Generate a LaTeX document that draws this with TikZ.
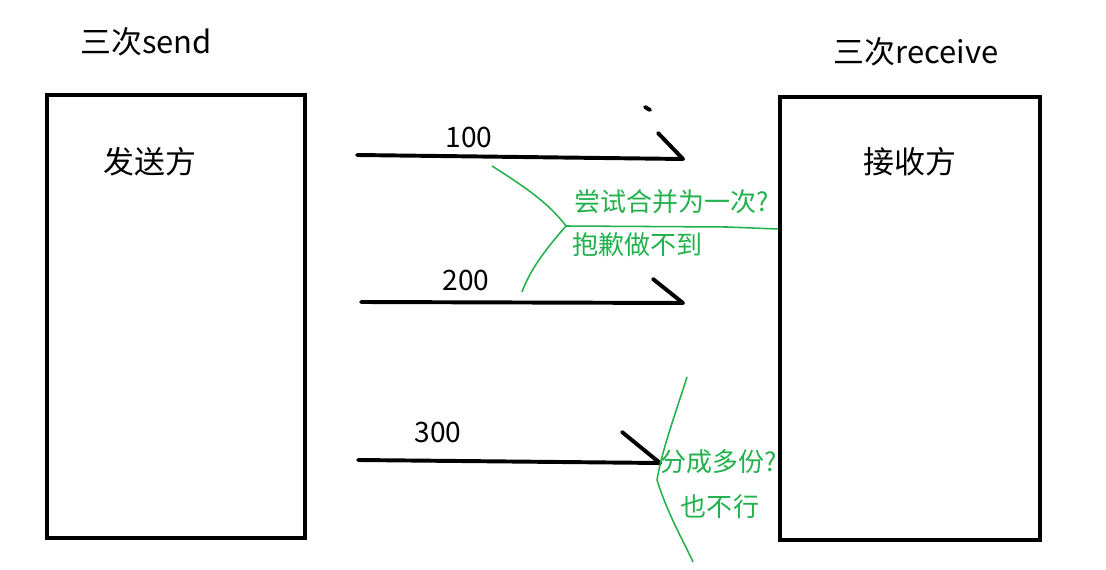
\documentclass[tikz,border=0pt]{standalone}
\usepackage{fontspec}
\setmainfont{Noto Sans CJK SC}
\usetikzlibrary{positioning}
\definecolor{paintGreen}{RGB}{34,177,76}

\begin{document}
\begin{tikzpicture}[x=0.025cm, y=-0.025cm,
    party/.style={draw, line width=3.2pt, minimum width=6.5cm, minimum height=11.075cm, inner sep=0pt},
    title/.style={font=\fontsize{22pt}{26pt}\selectfont},
    amount/.style={font=\fontsize{20pt}{24pt}\selectfont},
    note/.style={text=paintGreen, font=\fontsize{18.5pt}{22pt}\selectfont, inner sep=0pt},
    msg/.style={line width=2.8pt, line cap=round, line join=round},
    scribble/.style={paintGreen, line width=1.1pt}]
    \useasboundingbox (0,0) rectangle (1106,570);

    % sender and receiver
    \node[party, minimum width=6.45cm] (sender) at (176,316.5) {};
    \node[party] (receiver) at (910,318.5) {};
    \node[title] (sendcnt) at (146,42) {三次send};
    \node[title] (recvcnt) at (916,52) {三次receive};
    \node[title] (sendname) at (150,162) {发送方};
    \node[title] (recvname) at (910,162) {接收方};

    % three messages
    \coordinate (m1s) at (357,155);
    \coordinate (m1e) at (683,159);
    \coordinate (m1h) at (658,133);
    \coordinate (m2s) at (361,302);
    \coordinate (m2e) at (683,303);
    \coordinate (m2h) at (653,279);
    \coordinate (m3s) at (358,460);
    \coordinate (m3e) at (660,463);
    \coordinate (m3h) at (622,432);
    \draw[msg] (m1s) -- (m1e) -- (m1h);
    \draw[msg] (m2s) -- (m2e) -- (m2h);
    \draw[msg] (m3s) -- (m3e) -- (m3h);
    \draw[msg] (645,107) -- (650,110);
    \node[amount] (v100) at (469,137) {100};
    \node[amount] (v200) at (466,280) {200};
    \node[amount] (v300) at (438,432) {300};

    % merge attempt
    \coordinate (j1) at (566,226);
    \draw[scribble] (492,166) .. controls (530,190) and (550,205) .. (j1)
        .. controls (545,250) and (530,270) .. (522,292);
    \draw[scribble] (j1) -- (727,227) -- (receiver.west |- 0,229);
    \node[note] (merge) at (672,202) {尝试合并为一次?};
    \node[note, anchor=west] (nomerge) at (572,245) {抱歉做不到};

    % split attempt
    \draw[scribble] (687,377) .. controls (675,415) and (662,450) .. (657,480)
        .. controls (668,515) and (683,540) .. (693,562);
    \node[note] (split) at (719,462) {分成多份?};
    \node[note] (nosplit) at (720,507) {也不行};
\end{tikzpicture}
\end{document}
